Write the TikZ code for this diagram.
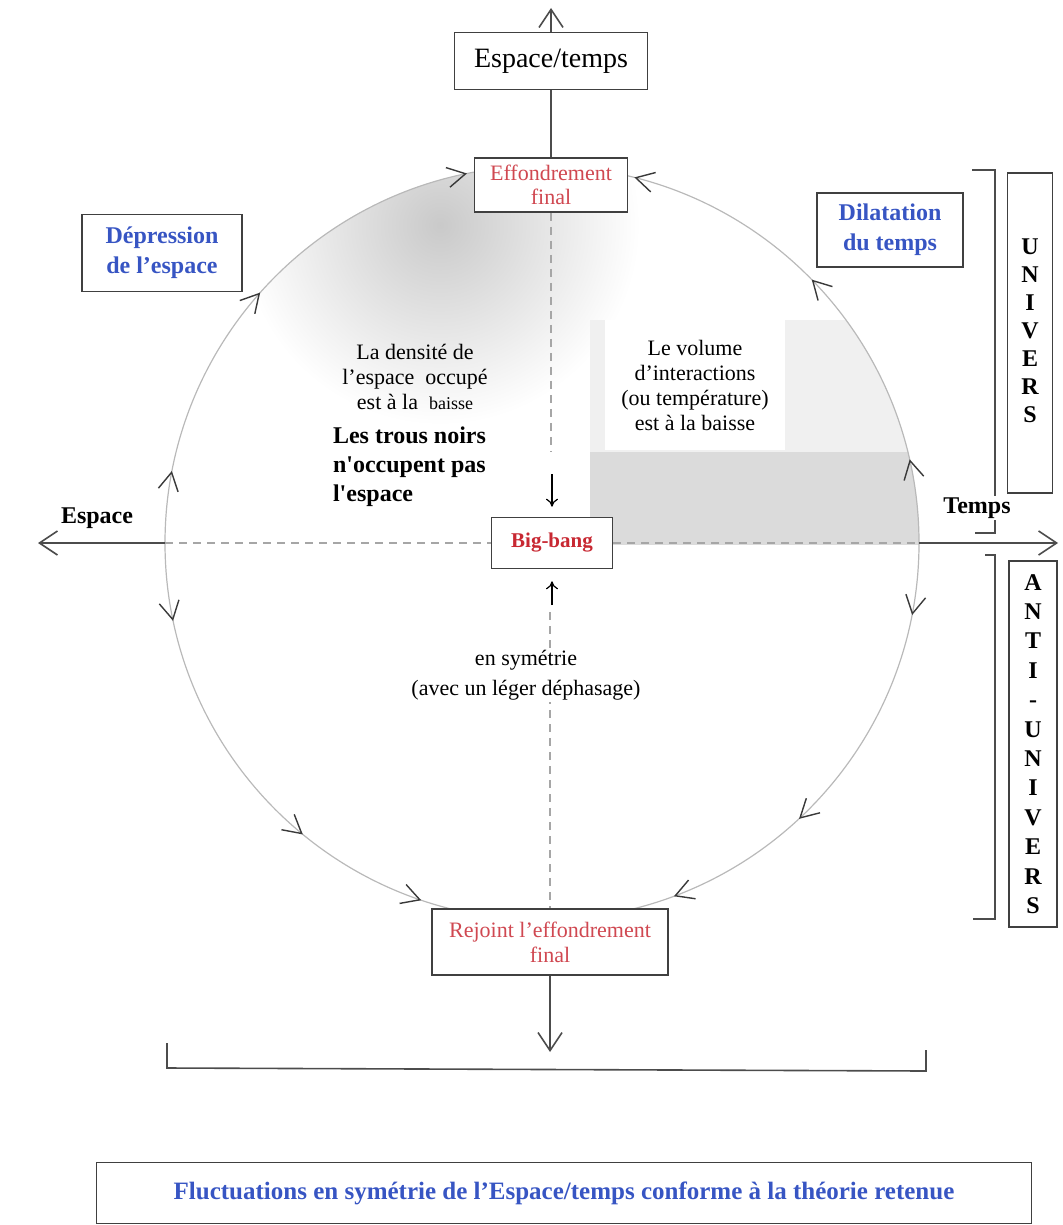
\documentclass[tikz,border=0pt]{standalone}
\usepackage{fontspec}
\setmainfont{Liberation Serif}
\usetikzlibrary{arrows.meta,decorations.markings}
\definecolor{rougetxt}{RGB}{200,40,50}
\definecolor{bleutxt}{RGB}{55,85,195}
\newcommand{\rayon}{377}
\newcommand{\pointe}{\draw[gray!45!black, line width=0.7pt] (-9pt,-5pt) -- (0pt,0pt) -- (-9pt,5pt);}

\tikzset{
  boite/.style={draw=black!75, line width=0.8pt, inner sep=0pt, align=center},
  fleche/.style={-{Straight Barb[length=9pt,width=12pt]}, line width=0.8pt, black!70},
  petitefleche/.style={-{To[length=4pt,width=6pt]}, line width=0.6pt},
  tirets/.style={dash pattern=on 4pt off 3pt, line width=0.8pt, gray!70},
  cercle/.style={gray!55, line width=0.6pt},
  crochet/.style={line width=0.8pt, black!70},
  sens/.style n args={3}{postaction={decorate}, decoration={markings,
      mark=at position #1 with {\pointe},
      mark=at position #2 with {\pointe},
      mark=at position #3 with {\pointe}}}
}

\begin{document}
\begin{tikzpicture}[x=0.5pt,y=-0.5pt]
\useasboundingbox (0,0) rectangle (1062,1225);

\coordinate (cc) at (542,543);
\coordinate (cg) at (165,543);
\coordinate (cd) at (919,543);
\coordinate (hautfl) at (551,8);
\coordinate (basfl) at (550,1052);
\coordinate (gfl) at (38,543);
\coordinate (dfl) at (1058,543);

% ombres dans le cercle
\begin{scope}
  \clip (cc) circle[radius=\rayon];
  \shade[inner color=gray!42, outer color=white] (440,225) circle[radius=200];
  \fill[gray!12] (590,320) rectangle (925,545);
  \fill[gray!28] (590,452) rectangle (925,545);
\end{scope}

% le cercle
\draw[cercle, sens={0.12}{0.46}{0.87}] (cg) arc[start angle=180, end angle=270, radius=\rayon];
\draw[cercle, sens={0.14}{0.49}{0.84}] (cd) arc[start angle=0, end angle=-90, radius=\rayon];
\draw[cercle, sens={0.12}{0.52}{0.77}] (cd) arc[start angle=0, end angle=90, radius=\rayon];
\draw[cercle, sens={0.13}{0.56}{0.79}] (cg) arc[start angle=180, end angle=90, radius=\rayon];

% boites
\node[boite, minimum width=96.5pt, minimum height=28.5pt, font=\fontsize{14}{16}\selectfont] (et) at (551,61) {Espace/temps};
\node[boite, fill=white, minimum width=76.5pt, minimum height=27pt, text=rougetxt!85, font=\fontsize{11}{12}\selectfont] (eff) at (551,185) {Effondrement\\final};
\node[boite, fill=white, minimum width=60.5pt, minimum height=25.5pt, text=rougetxt, font=\fontsize{10.5}{12}\selectfont\bfseries] (bb) at (552,543) {Big-bang};
\node[boite, fill=white, minimum width=118pt, minimum height=33pt, text=rougetxt!85, font=\fontsize{11}{12.5}\selectfont] (rej) at (550,942) {Rejoint l’effondrement\\final};
\node[boite, minimum width=80pt, minimum height=38.5pt, text=bleutxt, font=\fontsize{12}{15}\selectfont\bfseries] (dep) at (162,253) {Dépression\\de l’espace};
\node[boite, minimum width=73pt, minimum height=37pt, text=bleutxt, font=\fontsize{12}{15}\selectfont\bfseries] (dil) at (890,230) {Dilatation\\du temps};
\node[boite, minimum width=22.5pt, minimum height=160pt, font=\fontsize{12}{14}\selectfont\bfseries] (univ) at (1030,333)
  {\raisebox{9pt}{\begin{tabular}{@{}c@{}}U\\N\\I\\V\\E\\R\\S\end{tabular}}};
\node[boite, minimum width=24pt, minimum height=183pt, font=\fontsize{12}{14.7}\selectfont\bfseries] (anti) at (1033,744)
  {A\\N\\T\\I\\-\\U\\N\\I\\V\\E\\R\\S};
\node[boite, minimum width=467.5pt, minimum height=30.5pt, text=bleutxt, font=\fontsize{12.5}{14}\selectfont\bfseries] (fluct) at (564,1193)
  {Fluctuations en symétrie de l’Espace/temps conforme à la théorie retenue};

% axes
\coordinate (finhaut) at (551,452);
\coordinate (debutbas) at (550,612);
\draw[crochet] (eff.north) -- (et.south);
\draw[fleche] (et.north) -- (hautfl);
\draw[fleche] (rej.south) -- (basfl);
\draw[fleche] (cg) -- (gfl);
\draw[fleche] (cd) -- (dfl);
\draw[tirets] (cg) -- (bb.west);
\draw[tirets] (bb.east) -- (cd);
\draw[tirets] (eff.south) -- (finhaut);
\draw[tirets] (debutbas) -- (rej.north);
\coordinate (flbas) at (552,474);
\coordinate (flhaut) at (552,605);
\draw[petitefleche, shorten >=5pt] (flbas) -- (bb.north);
\draw[petitefleche, shorten >=6pt] (flhaut) -- (bb.south);

% textes
\node[align=center, font=\fontsize{11}{12.5}\selectfont] (densite) at (415,377)
  {La densité de\\l’espace~ occupé\\est à la~ {\fontsize{9}{10}\selectfont baisse}};
\node[anchor=west, align=left, font=\fontsize{12}{14.5}\selectfont\bfseries] (trous) at (326,467)
  {Les trous noirs\\n\textquotesingle occupent pas\\l\textquotesingle espace};
\node[fill=white, align=center, minimum width=90pt, minimum height=65pt, font=\fontsize{11}{12.5}\selectfont] (volume) at (695,385)
  {Le volume\\d’interactions\\(ou température)\\est à la baisse};
\node[fill=white, align=center, inner sep=1pt, font=\fontsize{11}{15}\selectfont] (sym) at (526,675)
  {en symétrie\\(avec un léger déphasage)};

% crochets
\draw[crochet] (972,170) -- (995,170) -- (995,533) -- (975,533);
\draw[crochet] (985,555) -- (995,555) -- (995,919) -- (973,919);
\draw[crochet] (167,1043) -- (167,1068) -- (926,1071) -- (926,1050);

\node[font=\fontsize{12}{14}\selectfont\bfseries] (espace) at (97,518) {Espace};
\node[fill=white, inner sep=1pt, font=\fontsize{12}{14}\selectfont\bfseries] (temps) at (977,508) {Temps};
\end{tikzpicture}
\end{document}
